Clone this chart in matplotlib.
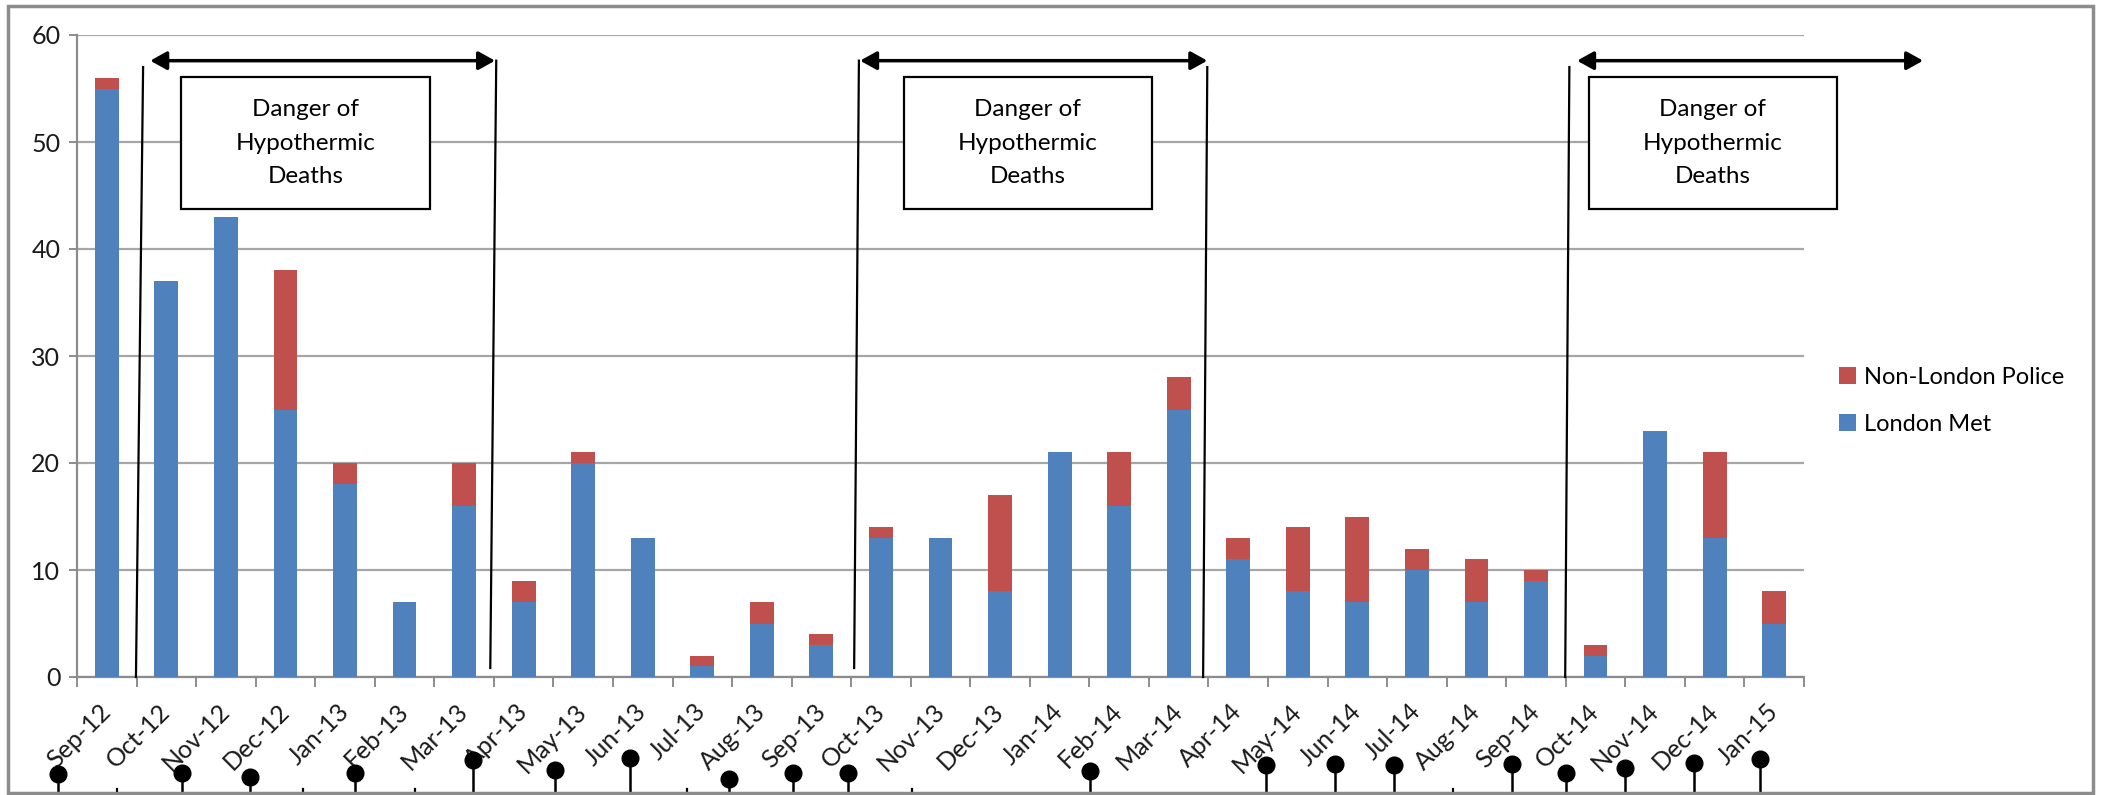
import matplotlib
matplotlib.use('Agg')
import matplotlib.pyplot as plt
import numpy as np
from matplotlib.transforms import blended_transform_factory
from matplotlib.patches import Rectangle, FancyArrowPatch

plt.rcParams['font.family'] = ['Lato', 'DejaVu Sans']

# ---------------- data ----------------
months = ['Sep-12', 'Oct-12', 'Nov-12', 'Dec-12', 'Jan-13', 'Feb-13', 'Mar-13', 'Apr-13',
          'May-13', 'Jun-13', 'Jul-13', 'Aug-13', 'Sep-13', 'Oct-13', 'Nov-13', 'Dec-13',
          'Jan-14', 'Feb-14', 'Mar-14', 'Apr-14', 'May-14', 'Jun-14', 'Jul-14', 'Aug-14',
          'Sep-14', 'Oct-14', 'Nov-14', 'Dec-14', 'Jan-15']
london_met = [55, 37, 43, 25, 18, 7, 16, 7, 20, 13, 1, 5, 3, 13, 13, 8, 21, 16, 25, 11,
              8, 7, 10, 7, 9, 2, 23, 13, 5]
non_london = [1, 0, 0, 13, 2, 0, 4, 2, 1, 0, 1, 2, 1, 1, 0, 9, 0, 5, 3, 2,
              6, 8, 2, 4, 1, 1, 0, 8, 3]
yticks = [0, 10, 20, 30, 40, 50, 60]

# "Danger of Hypothermic Deaths" annotations (category units / value units)
danger_text = 'Danger of\nHypothermic\nDeaths'
arrow_start = [0.73, 12.65, 24.69]
arrow_end = [6.52, 18.48, 30.5]
arrow_level = 57.6
box_left = [1.25, 13.38, 24.89]
box_right = [5.42, 17.55, 29.05]
box_bottom, box_top = 43.7, 56.07
line_top_x = [0.61, 6.54, 12.63, 18.48, 24.56]
line_top_y = [57.0, 57.6, 57.6, 57.0, 57.0]
line_bot_x = [0.49, 6.44, 12.55, 18.41, 24.49]
line_bot_y = [0.0, 0.84, 0.84, 0.0, 0.0]

# lollipop markers below the axis (category position, height in px from figure bottom)
event_x = [-0.82, 1.26, 2.40, 4.17, 6.15, 7.53, 8.79, 10.45, 11.52, 12.45,
           16.51, 19.47, 20.63, 21.62, 23.60, 24.50, 25.49, 26.65, 27.76]
event_h = [21, 22, 18, 22, 35, 25, 37, 16, 22, 22,
           24, 30, 31, 30, 31, 22, 27, 32, 36]
stub_x = [0.17, 3.29, 5.17, 9.74, 13.52, 22.61]

blue = '#4F81BD'
red = '#C0504D'
grey = '#8C8C8C'

W, H = 2105, 795
fig = plt.figure(figsize=(W / 100, H / 100), dpi=100)
ax = fig.add_axes([77 / W, 1 - 677 / H, (1804 - 77) / W, (677 - 35) / H])

x = np.arange(len(months))
b1 = ax.bar(x, london_met, width=0.4, color=blue, zorder=3)
b2 = ax.bar(x, non_london, width=0.4, bottom=london_met, color=red, zorder=3)

ax.set_xlim(-0.5, len(months) - 0.5)
ax.set_ylim(0, 60)
ax.set_yticks(yticks)
ax.yaxis.grid(True, color='#A6A6A6', lw=1.6, zorder=0)
ax.set_axisbelow(True)
for s in ['top', 'right']:
    ax.spines[s].set_visible(False)
for s in ['left', 'bottom']:
    ax.spines[s].set_color(grey)
    ax.spines[s].set_linewidth(1.6)

ax.set_xticks(x)
ax.set_xticklabels(months, rotation=45, ha='right', va='center', rotation_mode='anchor',
                   fontsize=18, color='#1a1a1a')
ax.set_xticks(np.arange(-0.5, len(months)), minor=True)
ax.tick_params(axis='x', which='major', length=0, pad=22)
ax.tick_params(axis='x', which='minor', length=7, width=1.4, color=grey)
ax.tick_params(axis='y', length=6, width=1.4, color=grey, labelsize=18, pad=6,
               labelcolor='#1a1a1a')

# annotations
for xs, xe in zip(arrow_start, arrow_end):
    ar = FancyArrowPatch((xs, arrow_level), (xe, arrow_level),
                         arrowstyle='<|-|>,head_length=0.45,head_width=0.25',
                         mutation_scale=22, lw=2.5, color='black',
                         shrinkA=0, shrinkB=0, clip_on=False, zorder=6)
    ax.add_patch(ar)
for xl, xr in zip(box_left, box_right):
    ax.add_patch(Rectangle((xl, box_bottom), xr - xl, box_top - box_bottom,
                           facecolor='white', edgecolor='black', lw=1.6,
                           zorder=5, clip_on=False))
    ax.text((xl + xr) / 2, (box_bottom + box_top) / 2, danger_text, ha='center',
            va='center', fontsize=17.5, linespacing=1.75, zorder=6)
for xt, yt, xb, yb in zip(line_top_x, line_top_y, line_bot_x, line_bot_y):
    ax.plot([xt, xb], [yt, yb], color='black', lw=1.6, zorder=4, clip_on=False)

# lollipops below axis
tr = blended_transform_factory(ax.transData, fig.transFigure)
for ex, eh in zip(event_x, event_h):
    ax.plot([ex, ex], [0, eh / H], color='black', lw=1.8, transform=tr, clip_on=False)
    ax.plot([ex], [eh / H], marker='o', ms=12, color='black', transform=tr,
            clip_on=False)
for sx in stub_x:
    ax.plot([sx, sx], [0, 6 / H], color='black', lw=1.6, transform=tr, clip_on=False)

# legend
ax.legend([b2, b1], ['Non-London Police', 'London Met'], loc='center left',
          bbox_to_anchor=(1839 / W, 1 - 401 / H), bbox_transform=fig.transFigure,
          frameon=False, fontsize=17, handlelength=0.7, handleheight=0.7,
          handletextpad=0.35, labelspacing=1.1, borderpad=0, borderaxespad=0)

# outer border
fig.patches.append(Rectangle((8 / W, 2 / H), (2093 - 8) / W, (789 - 2) / H,
                             transform=fig.transFigure, fill=False,
                             edgecolor=grey, lw=2.5))

fig.savefig('out.png', dpi=100)
